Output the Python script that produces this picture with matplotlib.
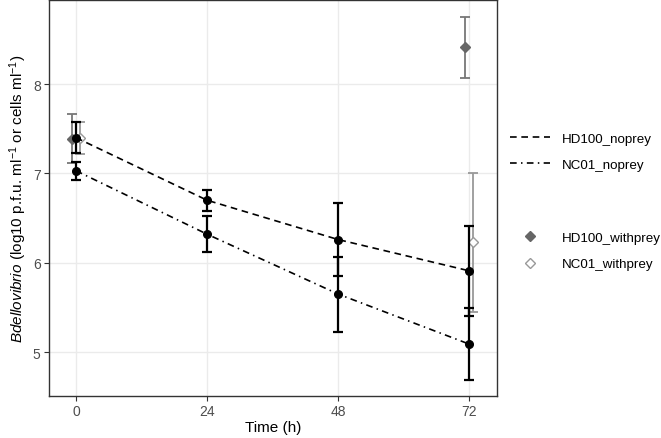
import matplotlib
matplotlib.use("Agg")
from matplotlib import pyplot as plt
from matplotlib.lines import Line2D

plt.rcParams['font.family'] = ['Liberation Sans', 'DejaVu Sans']
plt.rcParams['mathtext.fontset'] = 'custom'
plt.rcParams['mathtext.rm'] = 'Liberation Sans'
plt.rcParams['mathtext.it'] = 'Liberation Sans:italic'

# data
time = [0, 24, 48, 72]
hd100_noprey = [7.40, 6.70, 6.26, 5.91]
hd100_noprey_err = [0.17, 0.12, 0.41, 0.50]
nc01_noprey = [7.03, 6.32, 5.65, 5.09]
nc01_noprey_err = [0.10, 0.20, 0.42, 0.40]

withprey_time = [0, 72]
hd100_withprey = [7.39, 8.41]
hd100_withprey_err = [0.27, 0.34]
nc01_withprey = [7.40, 6.23]
nc01_withprey_err = [0.18, 0.78]

dodge = 0.75
dash = (4.0, 2.8)
dotdash = (4.0, 2.6, 0.9, 2.6)

fig = plt.figure(figsize=(6.61, 4.39), dpi=100)
ax = fig.add_axes([0.0741, 0.0957, 0.678, 0.902])

# with prey (dodged)
ax.errorbar([t - dodge for t in withprey_time], hd100_withprey, yerr=hd100_withprey_err,
            fmt='D', color='#666666', ecolor='#777777', elinewidth=1.3, capsize=3.5,
            capthick=1.3, markersize=5, zorder=3)
ax.errorbar([t + dodge for t in withprey_time], nc01_withprey, yerr=nc01_withprey_err,
            fmt='D', color='#999999', mfc='white', mec='#999999', ecolor='#999999',
            elinewidth=1.3, capsize=3.5, capthick=1.3, markersize=5, zorder=3)

# no prey
ax.errorbar(time, hd100_noprey, yerr=hd100_noprey_err, fmt='none', ecolor='black',
            elinewidth=1.6, capsize=3.5, capthick=1.6, zorder=4)
ax.errorbar(time, nc01_noprey, yerr=nc01_noprey_err, fmt='none', ecolor='black',
            elinewidth=1.6, capsize=3.5, capthick=1.6, zorder=4)
ax.plot(time, hd100_noprey, color='black', lw=1.2, dashes=dash, zorder=4)
ax.plot(time, nc01_noprey, color='black', lw=1.2, dashes=dotdash, zorder=4)
ax.plot(time, hd100_noprey, 'o', color='black', markersize=5.5, zorder=5)
ax.plot(time, nc01_noprey, 'o', color='black', markersize=5.5, zorder=5)

ax.set_xlim(-4.95, 77.1)
ax.set_ylim(4.51, 8.94)
ax.set_xticks(time)
ax.set_yticks([5, 6, 7, 8])
ax.grid(True, color='#EBEBEB', lw=1.0)
ax.set_axisbelow(True)
for s in ax.spines.values():
    s.set_color('#333333')
    s.set_linewidth(1.0)
ax.tick_params(colors='#333333', labelcolor='#4D4D4D', labelsize=10, length=3.5, pad=2.5)

ax.set_xlabel('Time (h)', fontsize=11, labelpad=1)
ax.set_ylabel(r'$\it{Bdellovibrio}$ (log10 p.f.u. ml$^{-1}$ or cells ml$^{-1}$)', fontsize=11,
              labelpad=3)

h_lines = [Line2D([], [], color='black', lw=1.2, dashes=dash),
           Line2D([], [], color='black', lw=1.2, dashes=dotdash)]
fig.legend(h_lines, ['HD100_noprey', 'NC01_noprey'], loc='center left',
           bbox_to_anchor=(0.753, 0.652), frameon=False, fontsize=9.6,
           handlelength=3.0, handletextpad=0.9, labelspacing=1.05)
h_pts = [Line2D([], [], ls='none', marker='D', color='#666666', markersize=5),
         Line2D([], [], ls='none', marker='D', mfc='white', mec='#999999', markersize=5)]
fig.legend(h_pts, ['HD100_withprey', 'NC01_withprey'], loc='center left',
           bbox_to_anchor=(0.753, 0.426), frameon=False, fontsize=9.6,
           handlelength=3.0, handletextpad=0.9, labelspacing=1.05)

plt.savefig('out.png', dpi=100)
